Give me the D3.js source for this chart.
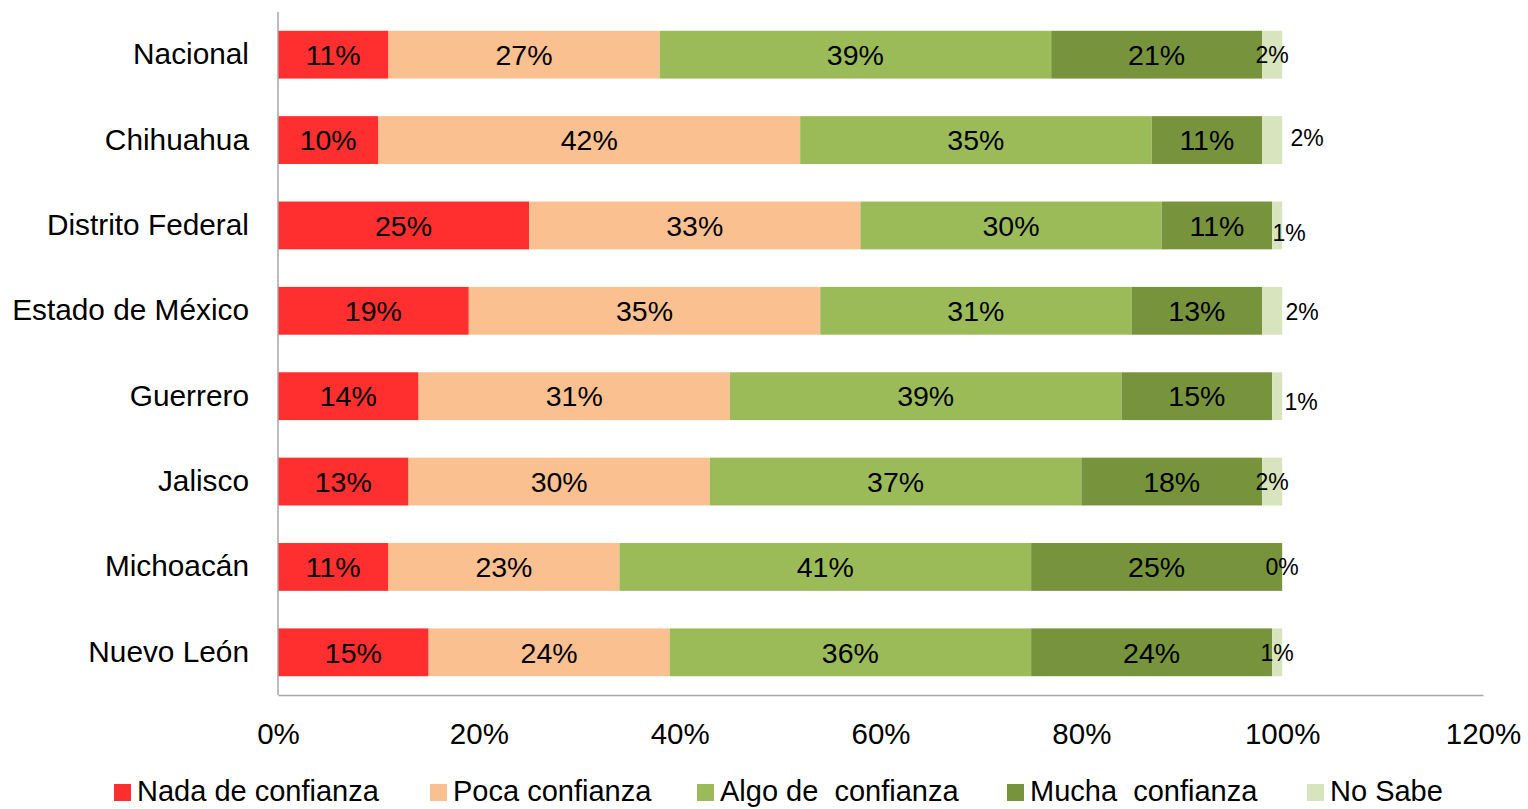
<!DOCTYPE html>
<html>
<head>
<meta charset="utf-8">
<script src="https://cdn.jsdelivr.net/npm/d3@7"></script>
<style>
  html, body { margin: 0; padding: 0; background: #fff; }
  svg { display: block; font-family: "Liberation Sans", Arial, sans-serif; }
  .ws { white-space: pre; }
</style>
</head>
<body>
<svg id="chart" width="1528" height="809"></svg>
<script>
// estados (orden de arriba a abajo)
const states = ["Nacional", "Chihuahua", "Distrito Federal", "Estado de México",
                "Guerrero", "Jalisco", "Michoacán", "Nuevo León"];
const seriesNames = ["Nada de confianza", "Poca confianza", "Algo de  confianza",
                     "Mucha  confianza", "No Sabe"];
// porcentajes por serie, en el orden de states
const nada   = [11, 10, 25, 19, 14, 13, 11, 15];
const poca   = [27, 42, 33, 35, 31, 30, 23, 24];
const algo   = [39, 35, 30, 31, 39, 37, 41, 36];
const mucha  = [21, 11, 11, 13, 15, 18, 25, 24];
const noSabe = [ 2,  2,  1,  2,  1,  2,  0,  1];
const xTicks = [0, 20, 40, 60, 80, 100, 120];

const colors = ["#ff2f2f", "#fac090", "#9bbb59", "#77933c", "#d7e4bd"];
// nudges (px) for the little "No Sabe" labels, as placed by hand in the original
const nsNudge = [[0, 0], [35, -2], [12, 7], [30, 1], [24, 6], [0, 0], [0, 0], [0, 0]];

const W = 1528, H = 809;
const m = { left: 278, right: 1483, top: 12, bottom: 695 };
const svg = d3.select("#chart");

const x = d3.scaleLinear().domain([0, 120]).range([m.left, m.right]);
const y = d3.scaleBand().domain(states).range([m.top, m.bottom]).paddingInner(0.44).paddingOuter(0.22);

const rows = states.map((s, i) => ({ state: s, nada: nada[i], poca: poca[i], algo: algo[i], mucha: mucha[i], noSabe: noSabe[i] }));
const keys = ["nada", "poca", "algo", "mucha", "noSabe"];
const stacked = d3.stack().keys(keys)(rows);

// bars
const gBars = svg.append("g");
stacked.forEach((layer, k) => {
  gBars.selectAll(null).data(layer).enter().append("rect")
    .attr("x", d => x(d[0]))
    .attr("y", d => y(d.data.state))
    .attr("width", d => x(d[1]) - x(d[0]))
    .attr("height", y.bandwidth())
    .attr("fill", colors[k]);
});

// value labels
stacked.forEach((layer, k) => {
  const small = k === 4;
  svg.append("g").selectAll("text").data(layer).enter().append("text")
    .attr("x", (d, i) => (x(d[0]) + x(d[1])) / 2 + (small ? nsNudge[i][0] : 0))
    .attr("y", (d, i) => y(d.data.state) + y.bandwidth() / 2 + (small ? nsNudge[i][1] : 0))
    .attr("dy", "0.36em")
    .attr("text-anchor", "middle")
    .attr("font-size", small ? 23 : 28.5)
    .attr("fill", "#000")
    .text(d => (d[1] - d[0]) + "%");
});

// axes
const xAxis = svg.append("g").attr("transform", `translate(0,${m.bottom})`)
  .call(d3.axisBottom(x).tickValues(xTicks).tickSize(0).tickPadding(28).tickFormat(d => d + "%"));
xAxis.select(".domain").attr("stroke", "#a6a6a6").attr("stroke-width", 1.5);
xAxis.selectAll("text").attr("font-size", 29.5).attr("fill", "#000").attr("font-family", "Liberation Sans, Arial, sans-serif");

const yAxis = svg.append("g").attr("transform", `translate(${m.left},0)`)
  .call(d3.axisLeft(y).tickSize(0).tickPadding(29));
yAxis.select(".domain").attr("stroke", "#a6a6a6").attr("stroke-width", 1.5)
  .attr("d", `M0,${m.top}V${m.bottom}`);
yAxis.selectAll("text").attr("font-size", 29.8).attr("fill", "#000").attr("font-family", "Liberation Sans, Arial, sans-serif");

// legend
const legendX = [114, 430, 697, 1007, 1307];
const lg = svg.append("g");
seriesNames.forEach((name, k) => {
  lg.append("rect").attr("x", legendX[k]).attr("y", 784).attr("width", 17).attr("height", 17).attr("fill", colors[k]);
  lg.append("text").attr("class", "ws").attr("x", legendX[k] + 23).attr("y", 791)
    .attr("dy", "0.36em").attr("font-size", 29).attr("fill", "#000").text(name);
});
</script>
</body>
</html>
